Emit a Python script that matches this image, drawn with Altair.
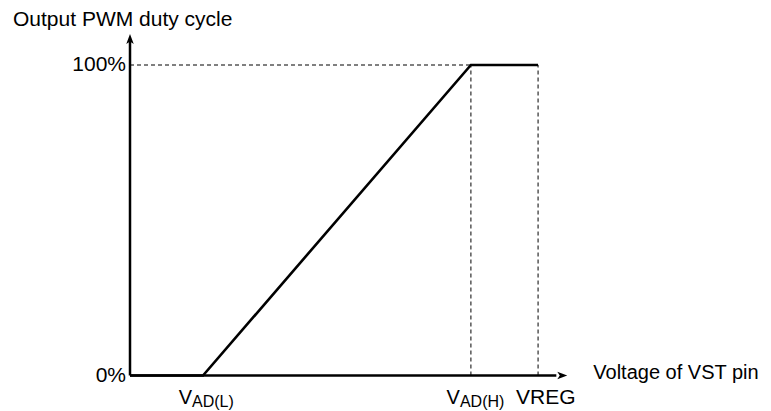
import altair as alt
import pandas as pd

# ---- data (abstract units) ----
VAD_L = 1.0
VAD_H = 4.67
VREG = 5.59
X_END = 5.99          # end of the horizontal axis arrow
Y_END = 110.0         # end of the vertical axis arrow

curve_x = [0.0, VAD_L, VAD_H, VREG]
curve_y = [0, 0, 100, 100]

tick_main = ["V", "V"]
tick_sub = ["AD(L)", "AD(H)"]
tick_x = [VAD_L, VAD_H]

ylabels = ["0%", "100%"]
ylabel_vals = [0, 100]

title_y = "Output PWM duty cycle"
title_x = "Voltage of VST pin"

# ---- layout calibration ----
W, H = 755, 403
px_x = 73.0          # px per x unit
x0_px = 122.0        # plot px of x=0
px_y = 3.105         # px per duty %
y0_px = 367.5        # plot px of y=0
xdom = [-x0_px / px_x, (W - x0_px) / px_x]
ydom = [-(H - y0_px) / px_y, y0_px / px_y]

xs = alt.Scale(domain=xdom, nice=False, zero=False)
ys = alt.Scale(domain=ydom, nice=False, zero=False)
X = lambda f: alt.X(f, type="quantitative", scale=xs, axis=None)
Y = lambda f: alt.Y(f, type="quantitative", scale=ys, axis=None)

FONT = "Liberation Sans"
FS = 21

curve_df = pd.DataFrame({"x": curve_x, "y": curve_y})
axes_df = pd.DataFrame({"x": [0.0, 0.0], "x2": [0.0, X_END - 0.15],
                        "y": [0.0, 0.0], "y2": [Y_END - 2, 0.0]})
dash_df = pd.DataFrame({"x": [0.0, VAD_H, VREG], "x2": [VAD_H, VAD_H, VREG],
                        "y": [100, 0, 0], "y2": [100, 100, 100]})
ticks_df = pd.DataFrame({"x": tick_x, "y": [0, 0], "main": tick_main, "sub": tick_sub})
ylab_df = pd.DataFrame({"x": [0.0, 0.0], "y": ylabel_vals, "t": ylabels})
vreg_df = pd.DataFrame({"x": [VREG], "y": [0], "t": ["VREG"]})
ytitle_df = pd.DataFrame({"x": [0.0], "y": [Y_END], "t": [title_y]})
xtitle_df = pd.DataFrame({"x": [X_END], "y": [0], "t": [title_x]})
uparrow_df = pd.DataFrame({"x": [0.0], "y": [Y_END]})
rarrow_df = pd.DataFrame({"x": [X_END], "y": [0]})

axes = alt.Chart(axes_df).mark_rule(color="black", strokeWidth=2.5).encode(
    x=X("x"), x2="x2", y=Y("y"), y2="y2")

dashes = alt.Chart(dash_df).mark_rule(color="black", strokeWidth=1, strokeDash=[4, 3]).encode(
    x=X("x"), x2="x2", y=Y("y"), y2="y2")

curve = alt.Chart(curve_df).mark_line(color="black", strokeWidth=2.6, strokeJoin="miter").encode(
    x=X("x"), y=Y("y"))

up = alt.Chart(uparrow_df).mark_point(
    shape="M0,0L0.75,2L0,1.5L-0.75,2Z", filled=True, color="black", opacity=1, size=100
).encode(x=X("x"), y=Y("y"))
right = alt.Chart(rarrow_df).mark_point(
    shape="M0,0L-2,-0.75L-1.5,0L-2,0.75Z", filled=True, color="black", opacity=1, size=100
).encode(x=X("x"), y=Y("y"))

tick_v = alt.Chart(ticks_df).mark_text(
    font=FONT, fontSize=FS - 1, align="right", baseline="alphabetic", dx=-11, dy=28.5, color="black"
).encode(x=X("x"), y=Y("y"), text="main:N")
tick_s = alt.Chart(ticks_df).mark_text(
    font=FONT, fontSize=16, align="left", baseline="alphabetic", dx=-11, dy=31.5, color="black"
).encode(x=X("x"), y=Y("y"), text="sub:N")
vreg = alt.Chart(vreg_df).mark_text(
    font=FONT, fontSize=FS, align="left", baseline="alphabetic", dx=-22, dy=28.5, color="black"
).encode(x=X("x"), y=Y("y"), text="t:N")

ylab = alt.Chart(ylab_df).mark_text(
    font=FONT, fontSize=FS, align="right", baseline="middle", dx=-4, dy=0, color="black"
).encode(x=X("x"), y=Y("y"), text="t:N")

ytitle = alt.Chart(ytitle_df).mark_text(
    font=FONT, fontSize=FS, align="left", baseline="alphabetic", dx=-117, dy=-8, color="black"
).encode(x=X("x"), y=Y("y"), text="t:N")
xtitle = alt.Chart(xtitle_df).mark_text(
    font=FONT, fontSize=20, align="left", baseline="alphabetic", dx=26, dy=3.5, color="black"
).encode(x=X("x"), y=Y("y"), text="t:N")

chart = alt.layer(
    dashes, axes, curve, up, right, tick_v, tick_s, vreg, ylab, ytitle, xtitle
).properties(
    width=W, height=H, padding=0, autosize=alt.AutoSizeParams(type="none"),
    background="white"
).configure_view(stroke=None)

chart.save("out.html", embed_options={"renderer": "svg", "actions": False})
